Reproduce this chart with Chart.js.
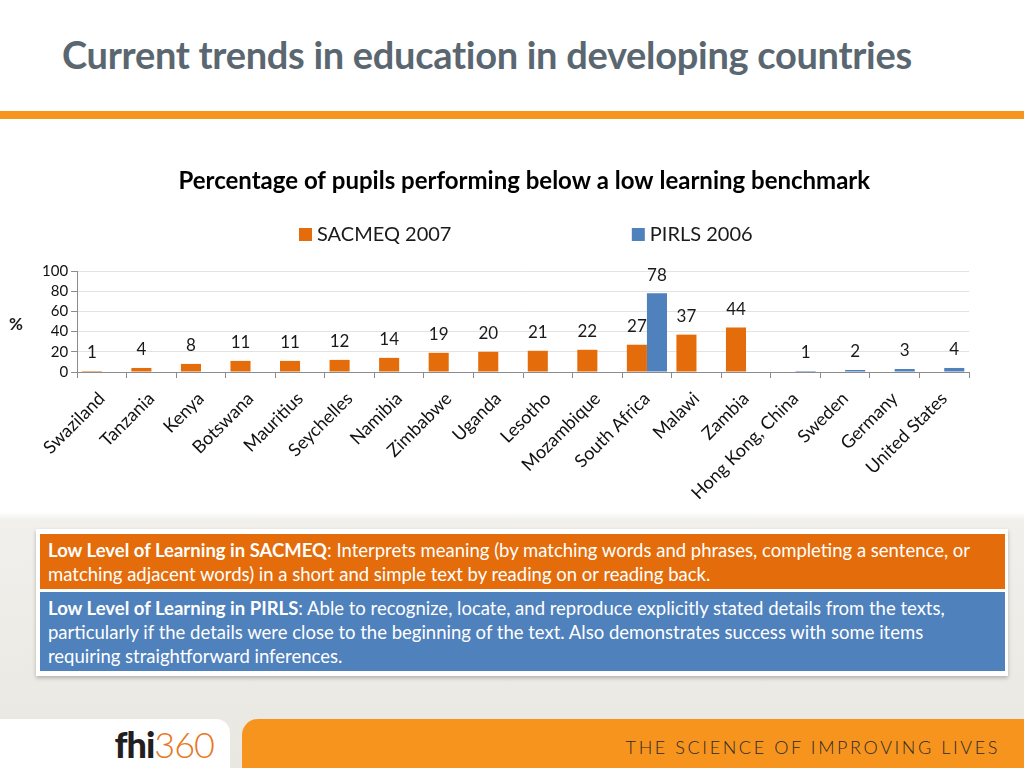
<!DOCTYPE html>
<html>
<head>
<meta charset="utf-8">
<script src="https://cdn.jsdelivr.net/npm/chart.js@4.4.1/dist/chart.umd.min.js"></script>
<style>
  html, body { margin: 0; padding: 0; }
  body {
    width: 1024px; height: 768px; position: relative; overflow: hidden;
    font-family: Lato, 'Open Sans', sans-serif;
    background: linear-gradient(to bottom, #ffffff 0px, #ffffff 512px, #f1f0ec 520px, #e9e7e1 768px);
  }
  #slide-title {
    position: absolute; left: 62px; top: 31px; margin: 0; line-height: 46px;
    font-size: 38px; font-weight: bold; color: #5b6770; letter-spacing: -0.3px;
  }
  #rule { position: absolute; left: 0; top: 111px; width: 1024px; height: 8px; background: #f7941e; }
  #chart-wrap { position: absolute; left: 0; top: 150px; width: 1024px; height: 370px; }
  #notes {
    position: absolute; left: 36px; top: 529px; width: 972px; height: 147px;
    background: #fff; box-shadow: 0 2px 4px rgba(0,0,0,0.25);
  }
  .note {
    position: absolute; left: 4px; width: 949px; color: #fff;
    font-size: 18.5px; line-height: 24px; padding: 4px 8px;
  }
  .note b { font-weight: bold; }
  #note-sacmeq { top: 5px; height: 47px; background: #e46c0a; }
  #note-pirls { top: 63px; height: 71px; background: #4f81bd; }
  #footer-left {
    position: absolute; left: 0; top: 719px; width: 230px; height: 49px;
    background: #fff; border-top-right-radius: 14px;
  }
  #logo { position: absolute; right: 16px; top: 8px; font-size: 36px; line-height: 34px; letter-spacing: -1px; }
  #logo .fhi { font-weight: 900; color: #231f20; }
  #logo .num { font-weight: 300; color: #e87722; }
  #footer-right {
    position: absolute; left: 242px; top: 719px; width: 782px; height: 49px;
    background: #f7941e; border-top-left-radius: 16px;
  }
  #tagline {
    position: absolute; right: 24px; top: 17px; font-size: 18px; color: #2b2b2b;
    letter-spacing: 2.6px; font-weight: 300;
  }
</style>
</head>
<body>
<h1 id="slide-title">Current trends in education in developing countries</h1>
<div id="rule"></div>
<div id="chart-wrap"><canvas id="chart"></canvas></div>
<div id="notes">
  <div class="note" id="note-sacmeq"><b>Low Level of Learning in SACMEQ</b>: Interprets meaning (by matching words and phrases, completing a sentence, or matching adjacent words) in a short and simple text by reading on or reading back.</div>
  <div class="note" id="note-pirls"><b>Low Level of Learning in PIRLS</b>: Able to recognize, locate, and reproduce explicitly stated details from the texts, particularly if the details were close to the beginning of the text. Also demonstrates success with some items requiring straightforward inferences.</div>
</div>
<div id="footer-left"><div id="logo"><span class="fhi">fhi</span><span class="num">360</span></div></div>
<div id="footer-right"><div id="tagline">THE SCIENCE OF IMPROVING LIVES</div></div>

<script>
const chartTitle = 'Percentage of pupils performing below a low learning benchmark';
const countries = [
  'Swaziland', 'Tanzania', 'Kenya', 'Botswana', 'Mauritius', 'Seychelles',
  'Namibia', 'Zimbabwe', 'Uganda', 'Lesotho', 'Mozambique', 'South Africa',
  'Malawi', 'Zambia', 'Hong Kong, China', 'Sweden', 'Germany', 'United States'
];
const sacmeq2007 = [1, 4, 8, 11, 11, 12, 14, 19, 20, 21, 22, 27, 37, 44, null, null, null, null];
const pirls2006 = [null, null, null, null, null, null, null, null, null, null, null, 78, null, null, 1, 2, 3, 4];
const yTicks = [0, 20, 40, 60, 80, 100];

const ORANGE = '#e46c0a';
const BLUE = '#4f81bd';
const FONT = 'Lato, "Open Sans", sans-serif';

// value labels above each bar
const barLabels = {
  id: 'barLabels',
  afterDatasetsDraw(chart) {
    const ctx = chart.ctx;
    ctx.save();
    ctx.fillStyle = '#1a1a1a';
    ctx.font = '17px ' + FONT;
    ctx.textAlign = 'center';
    ctx.textBaseline = 'middle';
    chart.data.datasets.forEach((ds, i) => {
      const meta = chart.getDatasetMeta(i);
      meta.data.forEach((bar, j) => {
        const v = ds.data[j];
        if (v === null || v === undefined) return;
        ctx.fillText(String(v), bar.x, bar.y - 18);
      });
    });
    ctx.restore();
  }
};

// title, legend spread over the width, and the "%" axis label
const sideText = {
  id: 'sideText',
  afterDraw(chart) {
    const ctx = chart.ctx;
    const w = chart.width;
    ctx.save();
    ctx.textBaseline = 'middle';
    ctx.textAlign = 'center';
    ctx.fillStyle = '#000';
    ctx.font = 'bold 24px ' + FONT;
    ctx.fillText(chartTitle, w * 0.512, 31);

    const legendX = [0.292, 0.617];
    const legendY = 84;
    ctx.font = '20px ' + FONT;
    ctx.textAlign = 'left';
    chart.data.datasets.forEach((ds, i) => {
      const x = w * legendX[i];
      ctx.fillStyle = ds.backgroundColor;
      ctx.fillRect(x, legendY - 6, 13, 13);
      ctx.fillStyle = '#1a1a1a';
      ctx.fillText(ds.label, x + 18, legendY + 1);
    });
    ctx.font = 'bold 17px ' + FONT;
    ctx.fillText('%', 9, chart.scales.y.getPixelForValue(47));
    ctx.restore();
  }
};

new Chart(document.getElementById('chart'), {
  type: 'bar',
  data: {
    labels: countries,
    datasets: [
      { label: 'SACMEQ 2007', data: sacmeq2007, backgroundColor: ORANGE },
      { label: 'PIRLS 2006', data: pirls2006, backgroundColor: BLUE }
    ]
  },
  options: {
    responsive: true,
    maintainAspectRatio: false,
    animation: false,
    categoryPercentage: 0.81,
    barPercentage: 1.0,
    layout: { padding: { left: 39, right: 55, top: 121, bottom: 0 } },
    scales: {
      x: {
        afterFit(scale) { scale.height = 148; },
        grid: { drawOnChartArea: false, drawTicks: true, tickLength: 6, color: '#8c8c8c' },
        border: { color: '#8c8c8c' },
        ticks: {
          color: '#111',
          font: { family: FONT, size: 18 },
          minRotation: 45,
          maxRotation: 45,
          autoSkip: false,
          padding: 10
        }
      },
      y: {
        min: 0,
        max: 100,
        afterBuildTicks(axis) { axis.ticks = yTicks.map(v => ({ value: v })); },
        grid: { color: '#e3e3e3', tickLength: 6, tickColor: '#8c8c8c' },
        border: { color: '#8c8c8c' },
        ticks: { color: '#111', font: { family: FONT, size: 15 }, padding: 3, autoSkip: false }
      }
    },
    plugins: {
      legend: { display: false },
      tooltip: { enabled: false },
      title: { display: false }
    }
  },
  plugins: [barLabels, sideText]
});
</script>
</body>
</html>
